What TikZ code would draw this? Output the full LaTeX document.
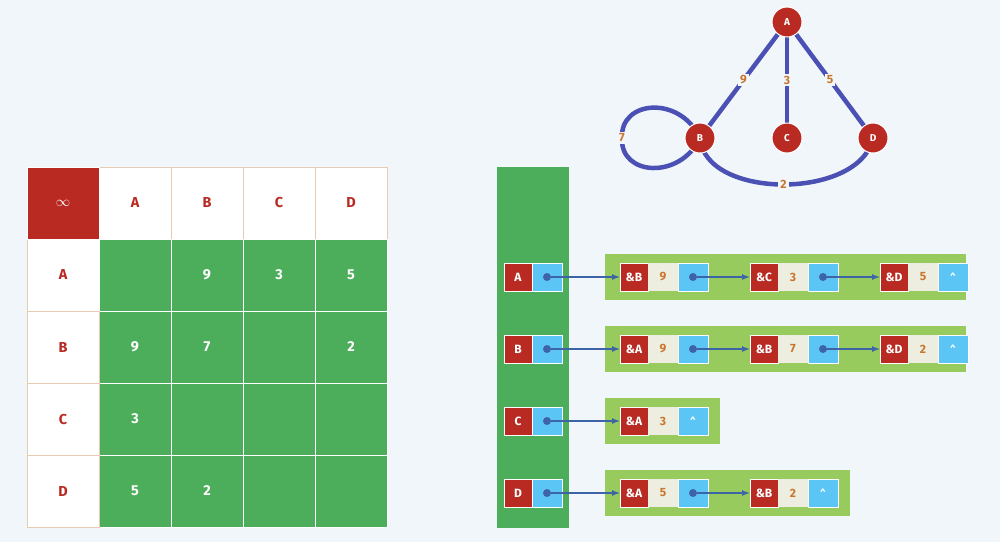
\documentclass[tikz,border=0pt]{standalone}
\usepackage{fontspec}
\setmainfont{Fira Sans}
\begin{document}
\begin{tikzpicture}[x=1pt,y=-1pt,
 bg/.style={fill=bgc},
 gc/.style={fill=tgreen,draw=white,line width=0.8pt},
 wc/.style={fill=white,draw=brown!40,line width=0.6pt,text=tred,font=\bfseries\Large},
 rk/.style={fill=tred,draw=white,line width=0.6pt,text=white,font=\bfseries\large,minimum width=28,minimum height=28,inner sep=0},
 bk/.style={fill=lblue,draw=white,line width=0.6pt,minimum width=30,minimum height=28,inner sep=0},
 vk/.style={fill=beige,minimum width=30,minimum height=28,inner sep=0,text=orng,font=\bfseries\large},
 lk/.style={fill=lgreen},
 ar/.style={draw=ablue,line width=1.6pt,-latex},
 dot/.style={fill=ablue,circle,inner sep=0,minimum size=8},
 gn/.style={circle,fill=tred,draw=white,line width=1pt,text=white,font=\bfseries,minimum size=30,inner sep=0},
 ge/.style={draw=eblue,line width=4.5pt},
 gl/.style={fill=bgc,text=orng,font=\bfseries\large,inner sep=2pt}]
\definecolor{bgc}{HTML}{F1F6FB}
\definecolor{tgreen}{HTML}{4CAD5B}
\definecolor{lgreen}{HTML}{97CB5E}
\definecolor{tred}{HTML}{B82A22}
\definecolor{lblue}{HTML}{5BC6F5}
\definecolor{beige}{HTML}{EEEEE0}
\definecolor{orng}{HTML}{C8762E}
\definecolor{ablue}{HTML}{3D64A6}
\definecolor{eblue}{HTML}{4B50B4}
\fill[bgc] (0,0) rectangle (1000,542);
\useasboundingbox (0,0) rectangle (1000,542);
% matrix
\def\cx#1{#1*72+27}
\foreach \c/\l in {1/A,2/B,3/C,4/D}{
 \node[wc,minimum width=72,minimum height=72,inner sep=0] (h\l) at ({\c*72+63},203) {\l};
 \node[wc,minimum width=72,minimum height=72,inner sep=0] (r\l) at (63,{\c*72+203}) {\l};
 \foreach \r in {1,2,3,4}{\node[gc,minimum width=72,minimum height=72] (c\c\r) at ({\c*72+63},{\r*72+203}) {};}
}
\node[fill=tred,draw=white,minimum width=72,minimum height=72,text=white,font=\bfseries\Large] (inf) at (63,203) {$\infty$};
\foreach \c/\r/\v in {2/1/9,3/1/3,4/1/5,1/2/9,2/2/7,4/2/2,1/3/3,1/4/5,2/4/2}
 \node[text=white,font=\bfseries\Large] at ({\c*72+63},{\r*72+203}) {\v};
% vertical bar
\node[fill=tgreen,minimum width=72,minimum height=361,inner sep=0] (bar) at (533,347.5) {};
% lists
\node[lk,minimum width=361,minimum height=46] (LA) at (785.5,277) {};
\node[lk,minimum width=361,minimum height=46] (LB) at (785.5,349) {};
\node[lk,minimum width=115,minimum height=46] (LC) at (662.5,421) {};
\node[lk,minimum width=245,minimum height=46] (LD) at (727.5,493) {};
\foreach \n/\y in {A/277,B/349,C/421,D/493}{
 \node[rk] (k\n) at (518,\y) {\n};
 \node[bk] (p\n) at (547,\y) {};
 \node[dot] (d\n) at (547,\y) {};
}
% list nodes: name, x, label, value, y
\foreach \id/\x/\t/\v/\y in {a1/634/B/9/277,a2/764/C/3/277,a3/894/D/5/277,
  b1/634/A/9/349,b2/764/B/7/349,b3/894/D/2/349,c1/634/A/3/421,d1/634/A/5/493,d2/764/B/2/493}{
 \node[rk] (n\id) at (\x,\y) {\&\t};
 \node[vk] (v\id) at (\x+29,\y) {\v};
 \node[bk] (q\id) at (\x+59,\y) {};
 \node[dot] (e\id) at (\x+59,\y) {};
}
\foreach \id in {a3,b3,c1,d2}
 \node[bk,text=white,font=\bfseries] at (q\id) {\textasciicircum};
\draw[ar] (dA) -- (na1);
\draw[ar] (ea1) -- (na2);
\draw[ar] (ea2) -- (na3);
\draw[ar] (dB) -- (nb1);
\draw[ar] (eb1) -- (nb2);
\draw[ar] (eb2) -- (nb3);
\draw[ar] (dC) -- (nc1);
\draw[ar] (dD) -- (nd1);
\draw[ar] (ed1) -- (nd2);
% graph
\coordinate (gA) at (787,22);
\coordinate (gB) at (700,138);
\coordinate (gC) at (787,138);
\coordinate (gD) at (873,138);
\draw[ge] (gA) -- (gB) node[gl,pos=0.5] {9};
\draw[ge] (gA) -- (gC) node[gl,pos=0.5] {3};
\draw[ge] (gA) -- (gD) node[gl,pos=0.5] {5};
\draw[ge] (gB) .. controls (705,200) and (860,200) .. (gD) node[gl,pos=0.5] {2};
\draw[ge] (gB) .. controls (680,95) and (620,100) .. (622,138) node[gl] {7} .. controls (620,176) and (680,180) .. (gB);
\node[gn] (A) at (gA) {A};
\node[gn] (B) at (gB) {B};
\node[gn] (C) at (gC) {C};
\node[gn] (D) at (gD) {D};
\end{tikzpicture}
\end{document}
